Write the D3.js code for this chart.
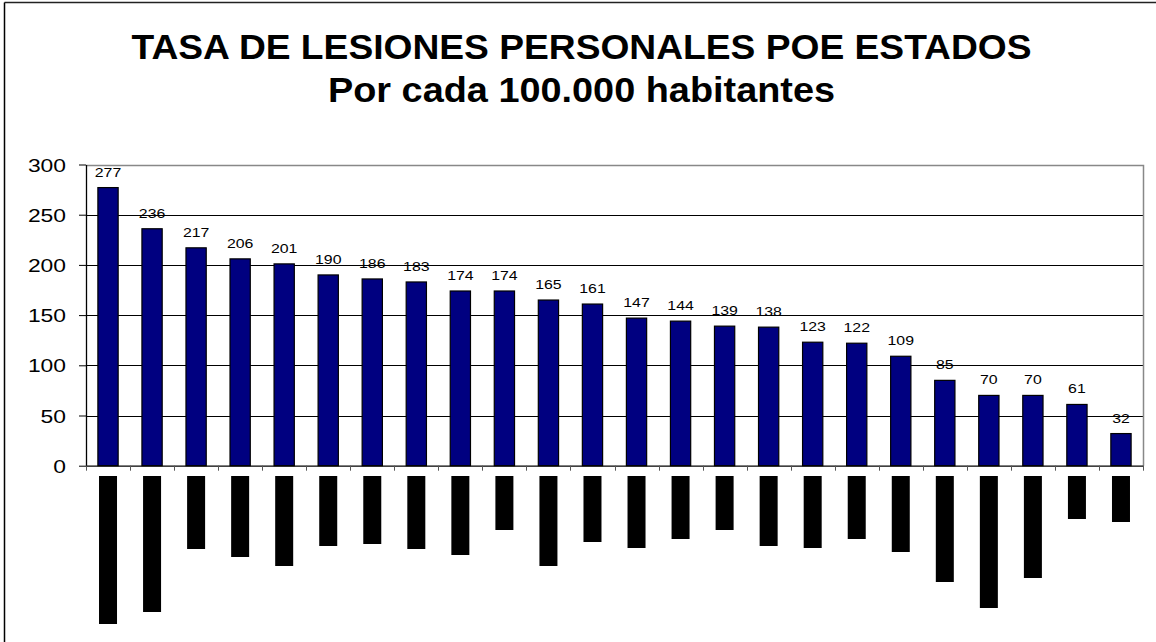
<!DOCTYPE html>
<html>
<head>
<meta charset="utf-8">
<script src="https://cdn.jsdelivr.net/npm/d3@7"></script>
<style>
  body { margin: 0; background: #fff; }
  svg { display: block; font-family: "Liberation Sans", Arial, sans-serif; }
</style>
</head>
<body>
<svg width="1156" height="642"></svg>
<script>
// state names are blacked out in the source, so only their slot index is known
var estados = d3.range(1, 25).map(function(i) { return "E" + i; });
var tasas = [277, 236, 217, 206, 201, 190, 186, 183, 174, 174, 165, 161,
             147, 144, 139, 138, 123, 122, 109, 85, 70, 70, 61, 32];
// length (px) of the black blocks that cover each state label
var largoEtiqueta = [148, 136, 73, 81, 90, 70, 68, 73, 79, 54, 90, 66,
                     72, 63, 54, 70, 72, 63, 76, 106, 132, 102, 43, 46];
var yTicks = [0, 50, 100, 150, 200, 250, 300];
var titulo = ["TASA DE LESIONES PERSONALES POE ESTADOS", "Por cada 100.000 habitantes"];

var svg = d3.select("svg");
var plot = {left: 86, right: 1143, top: 164.5, bottom: 465.7};

// chart frame (only top and left edges show)
svg.append("line").attr("x1", 4.5).attr("x2", 1156).attr("y1", 2.5).attr("y2", 2.5)
    .attr("stroke", "#222").attr("stroke-width", 1.5);
svg.append("line").attr("x1", 4.5).attr("x2", 4.5).attr("y1", 2.5).attr("y2", 642)
    .attr("stroke", "#000").attr("stroke-width", 1.5);

// title
svg.selectAll(".titulo")
    .data(titulo)
    .enter().append("text")
    .attr("class", "titulo")
    .attr("x", function(d, i) { return i == 0 ? 131.5 : 328; })
    .attr("y", function(d, i) { return i == 0 ? 58.5 : 101.5; })
    .attr("textLength", function(d, i) { return i == 0 ? 900 : 507; })
    .attr("lengthAdjust", "spacingAndGlyphs")
    .attr("font-size", 35)
    .attr("font-weight", "bold")
    .attr("fill", "#000")
    .text(function(d) { return d; });

var x = d3.scaleBand()
    .domain(estados)
    .range([plot.left, plot.right]);

var y = d3.scaleLinear()
    .domain([0, 300])
    .range([plot.bottom, plot.top]);

// gridlines
svg.append("g")
    .selectAll("line")
    .data(yTicks.filter(function(d) { return d > 0 && d < 300; }))
    .enter().append("line")
    .attr("x1", plot.left).attr("x2", plot.right)
    .attr("y1", function(d) { return Math.round(y(d)) + 0.5; })
    .attr("y2", function(d) { return Math.round(y(d)) + 0.5; })
    .attr("stroke", "#000")
    .attr("stroke-width", 1);

// plot border top/right in gray
svg.append("path")
    .attr("d", "M" + plot.left + "," + (Math.round(plot.top) + 0.5) +
               "H" + (plot.right + 0.5) + "V" + plot.bottom)
    .attr("fill", "none")
    .attr("stroke", "#888")
    .attr("stroke-width", 1.5);

// bars
var bw = x.bandwidth() * 0.46;
svg.append("g")
    .selectAll("rect")
    .data(tasas)
    .enter().append("rect")
    .attr("x", function(d, i) { return x(estados[i]) + x.bandwidth() / 2 - bw / 2; })
    .attr("y", function(d) { return y(d); })
    .attr("width", bw)
    .attr("height", function(d) { return y(0) - y(d); })
    .attr("fill", "#000080")
    .attr("stroke", "#000")
    .attr("stroke-width", 1.2);

// value labels
svg.append("g")
    .selectAll("text")
    .data(tasas)
    .enter().append("text")
    .attr("transform", function(d, i) {
        return "translate(" + (x(estados[i]) + x.bandwidth() / 2) + "," + (y(d) - 11) + ") scale(1.22,1)";
    })
    .attr("text-anchor", "middle")
    .attr("font-size", 13)
    .attr("fill", "#000")
    .text(function(d) { return d; });

// y axis
var yAxis = svg.append("g")
    .attr("transform", "translate(" + plot.left + ",0)")
    .call(d3.axisLeft(y).tickValues(yTicks).tickSize(7).tickSizeOuter(0));
yAxis.select(".domain").attr("stroke", "#000").attr("stroke-width", 1.3);
yAxis.selectAll(".tick line").attr("stroke", "#000");
yAxis.selectAll(".tick text")
    .attr("x", null)
    .attr("dy", null)
    .attr("font-size", 18)
    .attr("font-family", "Liberation Sans, Arial, sans-serif")
    .attr("fill", "#000")
    .attr("transform", "translate(-20,6.5) scale(1.27,1)");

// x axis line with ticks at category boundaries
var xAxis = svg.append("g")
    .attr("transform", "translate(0," + plot.bottom + ")")
    .call(d3.axisBottom(x).tickSize(0).tickSizeOuter(0).tickFormat(""));
xAxis.select(".domain").attr("stroke", "#000").attr("stroke-width", 1.3);
xAxis.selectAll(".tick").remove();
xAxis.selectAll(".sep")
    .data(estados)
    .enter().append("line")
    .attr("class", "sep")
    .attr("x1", function(d) { return Math.round(x(d)) + 0.5; })
    .attr("x2", function(d) { return Math.round(x(d)) + 0.5; })
    .attr("y1", 0).attr("y2", 5)
    .attr("stroke", "#555");
xAxis.append("line")
    .attr("x1", plot.right + 0.5).attr("x2", plot.right + 0.5)
    .attr("y1", 0).attr("y2", 5)
    .attr("stroke", "#555");

// black blocks that cover the state names
svg.append("g")
    .selectAll("rect")
    .data(largoEtiqueta)
    .enter().append("rect")
    .attr("x", function(d, i) { return x(estados[i]) + x.bandwidth() / 2 - 9; })
    .attr("y", 476)
    .attr("width", 18)
    .attr("height", function(d) { return d; })
    .attr("fill", "#000");
</script>
</body>
</html>
